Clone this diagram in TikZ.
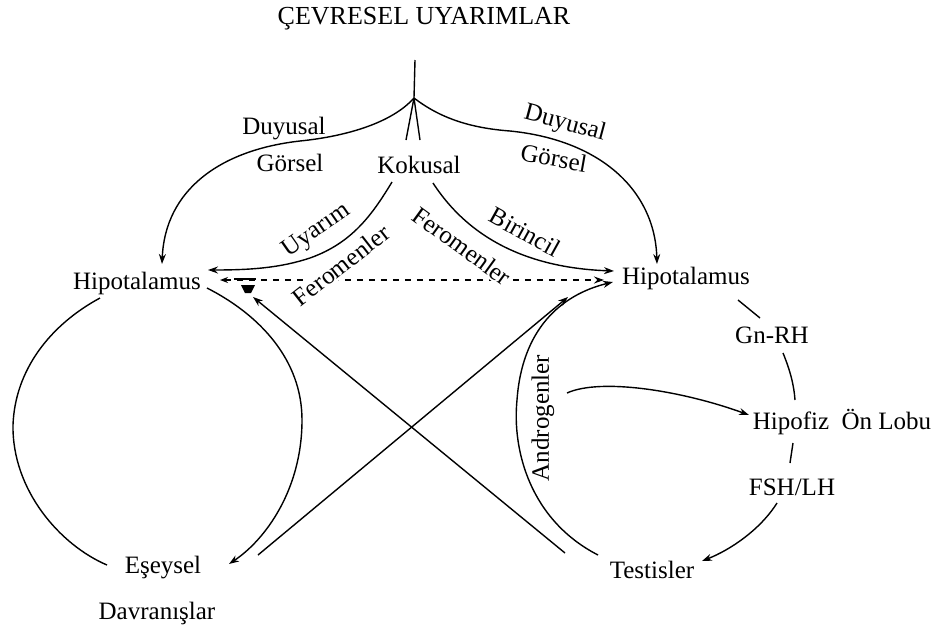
\documentclass[tikz,border=0pt]{standalone}
\usepackage{fontspec}
\setmainfont{Liberation Serif}
\usetikzlibrary{arrows.meta}
\begin{document}
\begin{tikzpicture}[x=0.5pt,y=-0.5pt,
  lbl/.style={inner sep=1pt,font=\fontsize{12.5}{14}\selectfont},
  mask/.style={lbl,fill=white},
  ln/.style={line width=0.7pt},
  arr/.style={ln,-{Stealth[length=5pt,width=3.5pt]}},
  >={Stealth[length=5pt,width=3.5pt]}]
\useasboundingbox (0,0) rectangle (933,633);

% named points
\coordinate (top) at (415,60);
\coordinate (j) at (414,98);
\coordinate (kL) at (406,140);
\coordinate (kR) at (420,140);

% nodes
\node[lbl,font=\fontsize{13}{15}\selectfont] (title) at (424,19) {ÇEVRESEL UYARIMLAR};
\node[lbl] (kok) at (419,165) {Kokusal};
\node[lbl] (duyL) at (284,129) {Duyusal};
\node[lbl] (gorL) at (290,163) {Görsel};
\node[lbl,rotate=-15] (duyR) at (565,124) {Duyusal};
\node[lbl,rotate=-10] (gorR) at (554,158) {Görsel};
\node[lbl] (hl) at (137,283) {Hipotalamus};
\node[lbl] (hr) at (686,278) {Hipotalamus};
\node[lbl] (gnrh) at (772,335) {Gn-RH};
\node[lbl] (hip) at (842,422) {Hipofiz\enspace Ön Lobu};
\node[lbl] (fsh) at (792,487) {FSH/LH};
\node[lbl] (test) at (652,570) {Testisler};
\node[lbl,rotate=90] (andro) at (543,418) {Androgenler};
\node[lbl] (es) at (163,568) {Eşeysel};
\node[lbl] (davr) at (157,613) {Davranışlar};

% stem and fork
\draw[ln] (top) -- (j);
\draw[ln] (j) -- (kL);
\draw[ln] (j) -- (kR);

% Duyusal / Gorsel curves
\draw[arr] (j) .. controls (390,125) and (340,137) .. (300,141)
  .. controls (220,150) and (165,190) .. (162,264);
\draw[arr] (j) .. controls (440,118) and (470,128) .. (510,131)
  .. controls (600,140) and (655,190) .. (657,264);

% dashed link between the two Hipotalamus
\draw[ln,dashed,{Stealth[length=4pt,width=3pt]}-{Stealth[length=5pt,width=3.5pt]}] (220,280) -- (604,280);
\draw[ln] (234,279) -- (256,279);
\fill (241,285) -- (255,285) -- (251,293) -- (245,293) -- cycle;

% labels on lines (masking the dashed line)
\node[mask,rotate=35] (uy) at (317,231) {Uyarım};
\node[mask,rotate=38] (ferL) at (341,265) {Feromenler};
\node[mask,rotate=-36] (ferR) at (462,246) {Feromenler};
\node[lbl,rotate=-29] (bir) at (525,232) {Birincil};

% Kokusal -> left Hipotalamus (Uyarim / Feromenler)
\draw[arr] (392,182) .. controls (372,215) and (352,243) .. (310,258)
  .. controls (280,268) and (250,270) .. (208,270);
% Kokusal -> right Hipotalamus (Birincil Feromenler)
\draw[arr] (433,183) .. controls (470,240) and (530,268) .. (614,271);

% left circle
\draw[ln] (100,298) .. controls (50,325) and (15,370) .. (13,425)
  .. controls (12,490) and (60,545) .. (107,565);
\draw[arr] (207,288) .. controls (260,315) and (302,360) .. (302,420)
  .. controls (302,490) and (265,540) .. (229,564);

% crossing lines
\draw[arr] (258,555) -- (568,297);
\draw[arr] (565,553) -- (253,297);

% Androgenler arc
\draw[arr] (598,555) .. controls (530,520) and (512,450) .. (517,400)
  .. controls (522,330) and (560,295) .. (613,282);
% Androgenler -> Hipofiz
\draw[arr] (567,393) .. controls (600,378) and (680,390) .. (749,415);

% right loop
\draw[ln] (738,300) -- (760,318);
\draw[ln] (783,353) .. controls (790,370) and (794,385) .. (795,400);
\draw[ln] (793,443) -- (790,463);
\draw[arr] (777,503) .. controls (760,530) and (730,550) .. (702,561);
\end{tikzpicture}
\end{document}
